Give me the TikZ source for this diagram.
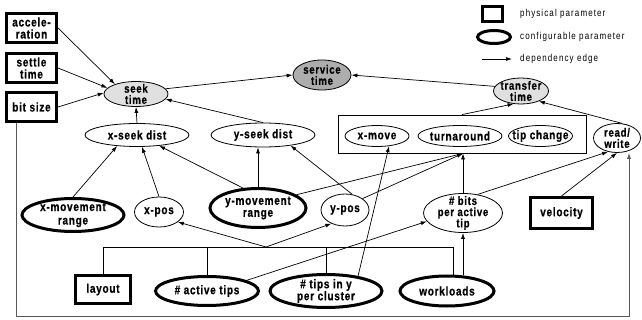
\documentclass[tikz,border=0pt]{standalone}
\usepackage{fontspec}
\setmainfont{Liberation Sans}
\newfontfamily\lblfont{Liberation Sans}[FakeStretch=0.8, LetterSpace=6, BoldFeatures={FakeBold=0.6}]
\newfontfamily\legfont{Liberation Sans}[FakeStretch=0.8, LetterSpace=11]
\usetikzlibrary{shapes.geometric,arrows.meta,calc}
\definecolor{lightfill}{gray}{0.88}
\definecolor{darkfill}{gray}{0.68}
\definecolor{loopcol}{gray}{0.35}
\tikzset{
  lbl/.style={font=\lblfont\bfseries\fontsize{12.5}{12}\selectfont, align=center, inner sep=0pt},
  tight/.style={font=\lblfont\bfseries\fontsize{12}{11.2}\selectfont},
  phys/.style={lbl, draw, line width=3pt, rectangle},
  conf/.style={lbl, draw, line width=3pt, ellipse, inner sep=-8pt},
  derived/.style={lbl, draw, line width=0.8pt, ellipse, inner sep=-8pt},
  edge/.style={-{Latex[length=6pt,width=4pt]}, line width=0.7pt},
  plain/.style={line width=0.7pt},
  legtxt/.style={font=\legfont\fontsize{10}{11}\selectfont, inner sep=0pt}
}
\begin{document}
\begin{tikzpicture}[x=1pt,y=-1pt]
\useasboundingbox (0,0) rectangle (642,320);
% physical parameters
\node[phys, minimum width=50, minimum height=29] (acc) at (31.5,28) {accele-\\ration};
\node[phys, minimum width=50, minimum height=29] (settle) at (31.5,68) {settle\\time};
\node[phys, minimum width=50, minimum height=29] (bitsize) at (31.5,107) {bit size};
\node[phys, minimum width=62, minimum height=31] (vel) at (561.5,213) {velocity};
\node[phys, minimum width=55, minimum height=28] (layout) at (103,289.5) {layout};
% derived
\node[derived, tight, fill=lightfill, minimum width=64, minimum height=25] (seek) at (136,94) {seek\\time};
\node[derived, tight, fill=darkfill, minimum width=58, minimum height=30] (service) at (322,75) {service\\time};
\node[derived, tight, fill=lightfill, minimum width=55, minimum height=26] (transfer) at (521,91) {transfer\\time};
\node[derived, minimum width=104, minimum height=23] (xseek) at (137,135) {x-seek dist};
\node[derived, minimum width=104, minimum height=24] (yseek) at (263,135) {y-seek dist};
\node[draw, line width=0.8pt, minimum width=248, minimum height=38, inner sep=0] (grp) at (462,134) {};
\node[derived, minimum width=64, minimum height=21] (xmove) at (377,136) {x-move};
\node[derived, minimum width=84, minimum height=21] (turn) at (460,136) {turnaround};
\node[derived, minimum width=64, minimum height=21] (tipch) at (540.5,136) {tip change};
\node[derived, tight, minimum width=47, minimum height=29] (rw) at (617,138) {read/\\write};
\node[derived, minimum width=49, minimum height=30] (xpos) at (159,212) {x-pos};
\node[derived, minimum width=48, minimum height=32] (ypos) at (345,210) {y-pos};
\node[derived, tight, minimum width=79, minimum height=39] (bits) at (463,213) {\# bits\\per active\\tip};
% configurable
\node[conf, minimum width=102, minimum height=33, font=\lblfont\bfseries\fontsize{12.5}{13.5}\selectfont] (xmr) at (73,215) {x-movement\\range};
\node[conf, minimum width=96, minimum height=39] (ymr) at (258,208) {y-movement\\range};
\node[conf, minimum width=103, minimum height=29] (at) at (207,291) {\# active tips};
\node[conf, minimum width=112, minimum height=33] (tipsy) at (326,291) {\# tips in y\\per cluster};
\node[conf, minimum width=94, minimum height=30] (wl) at (447,291) {workloads};
% edges
\draw[edge] (acc.east) -- (seek.155);
\draw[edge] (settle.east) -- (seek.168);
\draw[edge] (bitsize.east) -- (seek.178);
\draw[edge] (seek.10) -- (service.west);
\draw[edge] (transfer.170) -- (service.east);
\draw[edge] (xseek.north) -- (seek.south);
\draw[edge] (yseek.north) -- (seek.350);
\draw[edge] (grp.north) -- (transfer.240);
\draw[edge] (rw.70) -- (transfer.330);
\draw[edge] (xmr.north) -- (xseek.209);
\draw[edge] (xpos.north) -- (xseek.293);
\draw[edge] (ymr.127) -- (xseek.334);
\draw[edge] (ymr.north) -- (ymr.north |- yseek.south);
\draw[edge] (ypos.65) -- (yseek.339);
\coordinate (boxin) at (bits.north |- grp.south);
\draw[edge] (ymr.19) -- (boxin);
\draw[edge] (ypos.33) -- (boxin);
\draw[edge] (bits.north) -- (boxin);
\draw[edge] (tipsy.25) -- (xmove.320);
\draw[edge] (bits.52) -- (rw.237);
\draw[edge] (vel.north) -- (rw.south);
\draw[edge] (at.15) -- (bits.193);
\draw[edge] (bits.south |- wl.north) -- (bits.south);
% bus
\coordinate (bus) at (266,247);
\draw[plain] (layout.north) |- (wl.70 |- bus) -- (wl.70);
\draw[plain] (at.north) -- (at.north |- bus);
\draw[plain] (tipsy.north) -- (tipsy.north |- bus);
\draw[edge] (bus) -- (xpos.332);
\draw[edge] (bus) -- (ypos.225);
% loop
\coordinate (loopc) at (629,316);
\draw[edge, draw=loopcol] ([xshift=-15.5pt]bitsize.south) |- (loopc) -- (loopc |- rw.south);
% legend
\node[draw, line width=3pt, minimum width=20, minimum height=15, inner sep=0] (legbox) at (492,14) {};
\node[draw, ellipse, line width=3pt, minimum width=33, minimum height=13, inner sep=0] (legell) at (494,37) {};
\coordinate (legA) at (482,59);
\coordinate (legB) at (512,59);
\draw[edge] (legA) -- (legB);
\node[legtxt, anchor=west] (lt1) at (520,14) {physical parameter};
\node[legtxt, anchor=west] (lt2) at (520,37) {configurable parameter};
\node[legtxt, anchor=west] (lt3) at (520,59) {dependency edge};
\end{tikzpicture}
\end{document}
